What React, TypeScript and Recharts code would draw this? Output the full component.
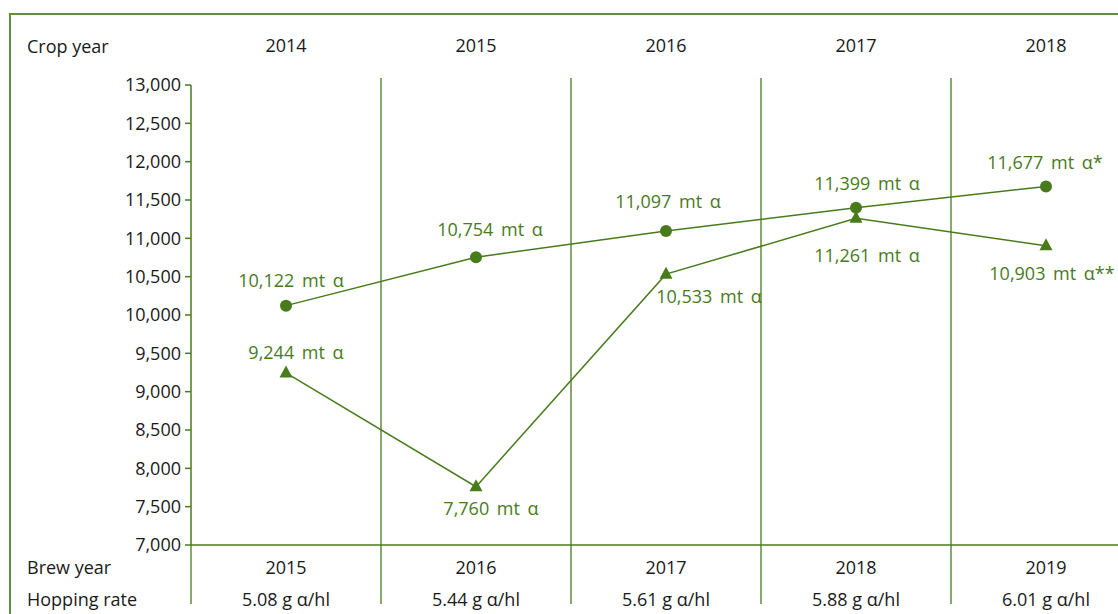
import React from 'react';
import { LineChart, Line, XAxis, YAxis, ReferenceLine, LabelList } from 'recharts';

// ---- data ----
const cropYears = ['2014', '2015', '2016', '2017', '2018'];
const brewYears = ['2015', '2016', '2017', '2018', '2019'];
const hoppingRates = ['5.08 g α/hl', '5.44 g α/hl', '5.61 g α/hl', '5.88 g α/hl', '6.01 g α/hl'];
const alphaDemand = [10122, 10754, 11097, 11399, 11677]; // circles
const alphaProduction = [9244, 7760, 10533, 11261, 10903]; // triangles
const demandNotes = ['', '', '', '', '*'];
const productionNotes = ['', '', '', '', '**'];
const yTicks = [7000, 7500, 8000, 8500, 9000, 9500, 10000, 10500, 11000, 11500, 12000, 12500, 13000];
const xTicks = [0, 1, 2, 3, 4];

const data = cropYears.map((c, i) => ({
  idx: i,
  crop: c,
  brew: brewYears[i],
  hop: hoppingRates[i],
  demand: alphaDemand[i],
  production: alphaProduction[i],
}));

// ---- style ----
const GREEN = '#487b1c';
const TEXT = '#1a1a1a';
const FONT = '"Open Sans", "DejaVu Sans", sans-serif';
const FS = 18;
const GRID_TOP = 13091;
const GRID_BOTTOM = 6230;
const bandEdges = [0.5, 1.5, 2.5, 3.5];
const demandLabelOffset = [
  { dx: 5, dy: -26 },
  { dx: 14, dy: -28 },
  { dx: 2, dy: -30 },
  { dx: 11, dy: -25 },
  { dx: -1, dy: -24 },
];
const productionLabelOffset = [
  { dx: 10, dy: -21 },
  { dx: 15, dy: 21 },
  { dx: 43, dy: 22 },
  { dx: 11, dy: 37 },
  { dx: 6, dy: 27 },
];

const fmt = (v: number) => v.toLocaleString('en-US');

const Triangle = (props: any) => {
  const { cx, cy, index } = props;
  if (cx == null || cy == null) return null;
  return (
    <path
      key={`tri-${index}`}
      d={`M${cx},${cy - 7.5} L${cx + 6.5},${cy + 4.5} L${cx - 6.5},${cy + 4.5} Z`}
      fill={GREEN}
      stroke="none"
    />
  );
};

const makeLabel = (offsets: { dx: number; dy: number }[], notes: string[]) => (props: any) => {
  const { x, y, value, index } = props;
  const o = offsets[index] || { dx: 0, dy: -24 };
  return (
    <text
      key={`lbl-${index}`}
      x={x + o.dx}
      y={y + o.dy}
      textAnchor="middle"
      dominantBaseline="central"
      fill={GREEN}
      fontSize={FS}
      fontFamily={FONT}
      style={{ wordSpacing: 3 }}
    >
      {`${fmt(value)} mt α${notes[index]}`}
    </text>
  );
};

const rowHeader: React.CSSProperties = {
  position: 'absolute',
  left: 27,
  fontSize: FS,
  fontFamily: FONT,
  color: TEXT,
  lineHeight: '20px',
  whiteSpace: 'nowrap',
};

export default function App() {
  return (
    <div
      style={{
        position: 'absolute',
        left: 0,
        top: 0,
        width: 1118,
        height: 614,
        overflow: 'hidden',
        background: '#fff',
        fontFamily: FONT,
      }}
    >
      <div
        style={{
          position: 'absolute',
          left: 9,
          top: 13,
          width: 1200,
          height: 700,
          borderTop: `2px solid ${GREEN}`,
          borderLeft: `2px solid ${GREEN}`,
          opacity: 0.85,
        }}
      />
      <div style={{ ...rowHeader, top: 36 }}>Crop year</div>
      <div style={{ ...rowHeader, top: 557 }}>Brew year</div>
      <div style={{ ...rowHeader, top: 589 }}>Hopping rate</div>
      <div style={{ position: 'absolute', left: 0, top: 0 }}>
        <LineChart
          width={1160}
          height={614}
          data={data}
          margin={{ top: 35, right: 19, bottom: 9, left: 91 }}
        >
          <XAxis
            xAxisId="crop"
            orientation="top"
            type="number"
            dataKey="idx"
            domain={[-0.5, 4.5]}
            ticks={xTicks}
            tickFormatter={(v: number) => cropYears[v]}
            height={50}
            axisLine={false}
            tickLine={false}
            tickSize={0}
            tickMargin={33}
            tick={{ fill: TEXT, fontSize: FS, fontFamily: FONT }}
            interval={0}
          />
          <XAxis
            xAxisId="brew"
            orientation="bottom"
            type="number"
            dataKey="idx"
            domain={[-0.5, 4.5]}
            ticks={xTicks}
            tickFormatter={(v: number) => brewYears[v]}
            height={30}
            axisLine={{ stroke: GREEN, strokeWidth: 1.5 }}
            tickLine={false}
            tickSize={0}
            tickMargin={16}
            tick={{ fill: TEXT, fontSize: FS, fontFamily: FONT }}
            interval={0}
          />
          <XAxis
            xAxisId="hop"
            orientation="bottom"
            type="number"
            dataKey="idx"
            domain={[-0.5, 4.5]}
            ticks={xTicks}
            tickFormatter={(v: number) => hoppingRates[v]}
            height={30}
            axisLine={false}
            tickLine={false}
            tickSize={0}
            tickMargin={18}
            tick={{ fill: TEXT, fontSize: FS, fontFamily: FONT }}
            interval={0}
          />
          <YAxis
            type="number"
            domain={[7000, 13000]}
            ticks={yTicks}
            interval={0}
            width={100}
            tickFormatter={fmt}
            axisLine={{ stroke: GREEN, strokeWidth: 1.5 }}
            tickLine={{ stroke: GREEN, strokeWidth: 1.5 }}
            tickSize={6}
            tickMargin={4}
            tick={{ fill: TEXT, fontSize: FS, fontFamily: FONT }}
          />
          {bandEdges.map((x) => (
            <ReferenceLine
              key={`edge-${x}`}
              xAxisId="crop"
              segment={[
                { x, y: GRID_TOP },
                { x, y: GRID_BOTTOM },
              ]}
              ifOverflow="visible"
              stroke={GREEN}
              strokeWidth={1.3}
            />
          ))}
          <ReferenceLine
            xAxisId="crop"
            segment={[
              { x: -0.5, y: 7000 },
              { x: -0.5, y: GRID_BOTTOM },
            ]}
            ifOverflow="visible"
            stroke={GREEN}
            strokeWidth={1.3}
          />
          <Line
            xAxisId="crop"
            dataKey="demand"
            stroke={GREEN}
            strokeWidth={1.5}
            dot={{ r: 6, fill: GREEN, stroke: 'none' }}
            activeDot={false}
            isAnimationActive={false}
          >
            <LabelList dataKey="demand" content={makeLabel(demandLabelOffset, demandNotes)} />
          </Line>
          <Line
            xAxisId="crop"
            dataKey="production"
            stroke={GREEN}
            strokeWidth={1.5}
            dot={<Triangle />}
            activeDot={false}
            isAnimationActive={false}
          >
            <LabelList dataKey="production" content={makeLabel(productionLabelOffset, productionNotes)} />
          </Line>
        </LineChart>
      </div>
    </div>
  );
}
